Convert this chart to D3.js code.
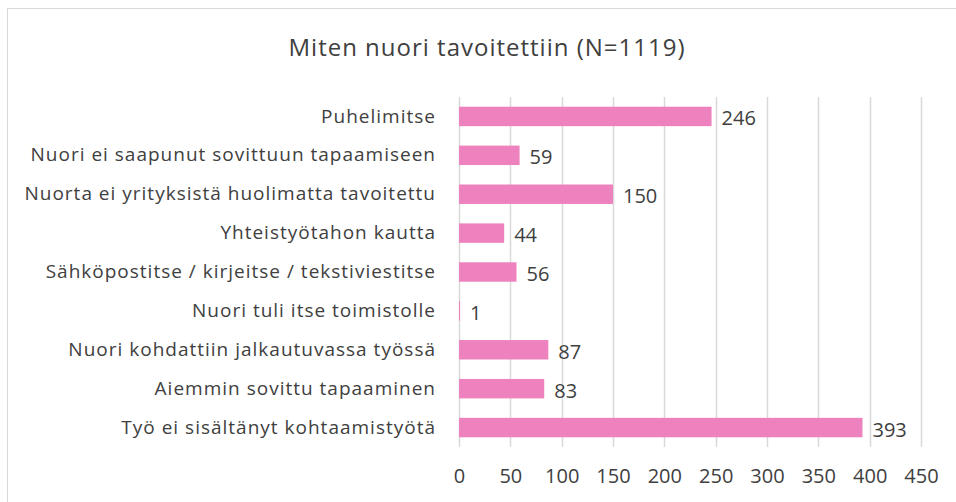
<!DOCTYPE html>
<html>
<head>
<meta charset="utf-8">
<script src="https://cdn.jsdelivr.net/npm/d3@7"></script>
<style>
  body { margin: 0; background: #fff; }
  text { font-family: "Open Sans", Lato, sans-serif; }
</style>
</head>
<body>
<script>
// data
var categories = [
    "Puhelimitse",
    "Nuori ei saapunut sovittuun tapaamiseen",
    "Nuorta ei yrityksistä huolimatta tavoitettu",
    "Yhteistyötahon kautta",
    "Sähköpostitse / kirjeitse / tekstiviestitse",
    "Nuori tuli itse toimistolle",
    "Nuori kohdattiin jalkautuvassa työssä",
    "Aiemmin sovittu tapaaminen",
    "Työ ei sisältänyt kohtaamistyötä"
];
var values = [246, 59, 150, 44, 56, 1, 87, 83, 393];
var xTicks = [0, 50, 100, 150, 200, 250, 300, 350, 400, 450];
var title = "Miten nuori tavoitettiin (N=1119)";

var W = 956, H = 502,
    plot = {left: 459, right: 921, top: 97, bottom: 447},
    font = "'Open Sans', sans-serif",
    col = {bar: "#EE82BE", grid: "#D9D9D9", text: "#404040", title: "#404040", frame: "#D9D9D9"};

var svg = d3.select("body").append("svg")
    .attr("width", W)
    .attr("height", H);

// frame
svg.append("rect")
    .attr("x", 7.5).attr("y", 8.5)
    .attr("width", W).attr("height", H)
    .attr("fill", "none")
    .attr("stroke", col.frame);

var x = d3.scaleLinear()
    .domain([0, 450])
    .range([plot.left, plot.right]);

var y = d3.scaleBand()
    .domain(categories)
    .range([plot.top, plot.bottom])
    .paddingInner(0.5)
    .paddingOuter(0.25);

// gridlines
svg.append("g")
    .selectAll("line")
    .data(xTicks)
    .enter()
    .append("line")
        .attr("x1", d => Math.round(x(d)) + 0.5)
        .attr("x2", d => Math.round(x(d)) + 0.5)
        .attr("y1", plot.top)
        .attr("y2", plot.bottom)
        .attr("stroke", col.grid)
        .attr("stroke-width", 1.5);

// x axis labels
var xAxis = svg.append("g")
    .attr("transform", "translate(0," + (plot.bottom + 22) + ")")
    .call(d3.axisBottom(x).tickValues(xTicks).tickSize(0).tickPadding(0));
xAxis.select(".domain").remove();
xAxis.selectAll("text")
    .attr("dy", "0.71em")
    .attr("font-size", "20px")
    .attr("font-family", font)
    .attr("fill", col.text);

// y axis labels
var yAxis = svg.append("g")
    .attr("transform", "translate(" + (plot.left - 23) + ",0)")
    .call(d3.axisLeft(y).tickSize(0).tickPadding(0));
yAxis.select(".domain").remove();
yAxis.selectAll("text")
    .attr("font-size", "19px")
    .attr("letter-spacing", "1px")
    .attr("font-family", font)
    .attr("fill", col.text);

// bars
svg.append("g")
    .selectAll("rect")
    .data(values)
    .enter()
    .append("rect")
        .attr("x", x(0))
        .attr("y", (d, i) => y(categories[i]))
        .attr("width", d => x(d) - x(0))
        .attr("height", y.bandwidth())
        .attr("fill", col.bar);

// value labels
svg.append("g")
    .selectAll("text")
    .data(values)
    .enter()
    .append("text")
        .attr("x", d => x(d) + 10)
        .attr("y", (d, i) => y(categories[i]) + y.bandwidth() / 2 + 2)
        .attr("dy", "0.35em")
        .attr("font-size", "20px")
        .attr("font-family", font)
        .attr("fill", col.text)
        .text(d => d);

// title
svg.append("text")
    .attr("x", 487)
    .attr("y", 48)
    .attr("dy", "0.35em")
    .attr("text-anchor", "middle")
    .attr("font-size", "24px")
    .attr("letter-spacing", "1px")
    .attr("font-family", font)
    .attr("fill", col.title)
    .text(title);
</script>
</body>
</html>
